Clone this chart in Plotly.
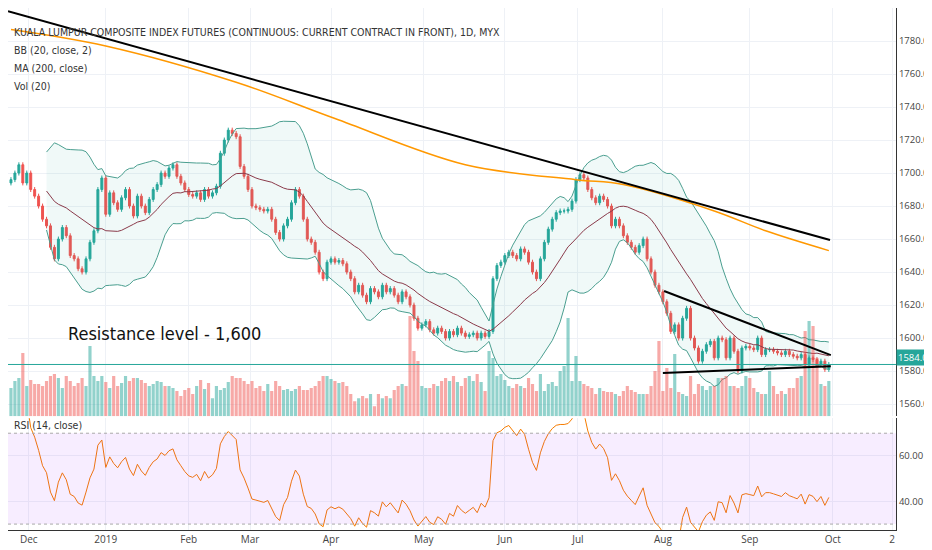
import numpy as np
import pandas as pd
import plotly.graph_objects as go
from plotly.subplots import make_subplots

# daily closes (index 0 = late Nov 2018)
closes = [
    1696, 1700, 1705, 1694, 1700, 1690, 1686, 1680, 1672, 1668,
    1655, 1648, 1660, 1667, 1662, 1650, 1648, 1642, 1640, 1648,
    1658, 1665, 1690, 1697, 1675, 1688, 1682, 1678, 1685, 1690,
    1680, 1674, 1686, 1680, 1676, 1684, 1690, 1693, 1700, 1698,
    1703, 1705, 1698, 1694, 1690, 1687, 1686, 1688, 1684, 1690,
    1686, 1688, 1692, 1712, 1720, 1726, 1724, 1722, 1704, 1698,
    1690, 1680, 1679, 1678, 1677, 1678, 1672, 1664, 1660, 1668,
    1672, 1682, 1690, 1686, 1672, 1660, 1658, 1652, 1640, 1636,
    1646, 1648, 1646, 1647, 1645, 1640, 1636, 1628, 1632, 1626,
    1622, 1630, 1628, 1625, 1632, 1628, 1630, 1626, 1622, 1628,
    1625, 1620, 1612, 1606, 1608, 1610, 1605, 1603, 1606, 1604,
    1600, 1604, 1602, 1606, 1603, 1601, 1602, 1603, 1600, 1603,
    1601, 1604, 1636, 1644, 1646, 1650, 1652, 1650, 1648, 1654,
    1652, 1646, 1640, 1636, 1648, 1658, 1666, 1672, 1676, 1677,
    1677, 1678, 1683, 1696, 1699, 1697, 1690, 1685, 1682, 1686,
    1684, 1680, 1668, 1672, 1668, 1662, 1658, 1655, 1652, 1656,
    1660, 1648, 1640, 1632, 1628, 1622, 1615, 1604, 1608, 1600,
    1612, 1618, 1600, 1594, 1586, 1592, 1596, 1598, 1588, 1600,
    1599, 1588, 1600, 1592, 1580, 1594, 1595, 1594, 1593, 1600,
    1590, 1593, 1593, 1592, 1591, 1590, 1592, 1590, 1589, 1588,
    1590, 1584, 1588, 1587, 1584, 1586, 1581, 1584,
]
first_open = 1694

volumes = [
    28, 35, 38, 63, 30, 36, 32, 32, 30, 35,
    40, 42, 38, 28, 40, 35, 30, 33, 38, 30,
    70, 40, 35, 40, 34, 28, 40, 30, 33, 40,
    35, 38, 38, 36, 33, 30, 32, 35, 34, 30,
    30, 28, 25, 20, 26, 28, 22, 30, 36, 27,
    33, 18, 30, 26, 28, 34, 40, 38, 38, 35,
    32, 35, 28, 30, 25, 32, 25, 35, 30, 26,
    27, 25, 27, 30, 26, 26, 28, 30, 35, 40,
    40, 37, 35, 33, 34, 30, 22, 15, 18, 20,
    18, 22, 10, 22, 18, 20, 18, 26, 30, 32,
    30, 100, 65, 55, 30, 28, 28, 32, 30, 35,
    38, 35, 40, 34, 30, 38, 40, 35, 42, 34,
    25, 65, 58, 40, 42, 36, 30, 28, 32, 30,
    28, 38, 32, 25, 42, 25, 32, 34, 30, 45,
    50, 98, 35, 60, 35, 32, 30, 28, 22, 28,
    25, 24, 24, 22, 20, 25, 30, 26, 24, 22,
    22, 22, 30, 45, 75, 25, 48, 28, 62, 24,
    22, 20, 40, 22, 32, 30, 26, 30, 30, 38,
    38, 40, 30, 30, 28, 30, 40, 38, 28, 24,
    22, 22, 45, 30, 22, 25, 22, 28, 28, 38,
    40, 85, 95, 90, 58, 32, 30, 35,
]

# 200-day MA, sampled along the orange line
ma_idx = [0, 24, 57, 82, 115, 143, 155, 178, 191, 207]
ma_val = [1787, 1777, 1755, 1733, 1705, 1696, 1693, 1677, 1665, 1653]

tick_pos = [4.5, 24, 45, 60.5, 81, 104.5, 125, 143.5, 165, 187, 208, 223]
tick_text = ["Dec", "2019", "Feb", "Mar", "Apr", "May", "Jun", "Jul", "Aug", "Sep", "Oct", "2"]

UP, DOWN = "#26a69a", "#ef5350"

c = pd.Series(closes, dtype=float)
o = c.shift(1).fillna(first_open)
h = np.maximum(o, c) + 1.5
l = np.minimum(o, c) - 1.5
idx = list(range(len(c)))
up = c >= o

basis = c.rolling(20, min_periods=10).mean()
sd = c.rolling(20, min_periods=10).std(ddof=0)
upper, lower = basis + 2 * sd, basis - 2 * sd

delta = c.diff()
gain = delta.clip(lower=0).ewm(alpha=1 / 14, adjust=False).mean()
loss = (-delta.clip(upper=0)).ewm(alpha=1 / 14, adjust=False).mean()
rsi = 100 - 100 / (1 + gain / loss)

fig = make_subplots(rows=2, cols=1, shared_xaxes=True, vertical_spacing=0.004,
                    row_heights=[0.785, 0.215],
                    specs=[[{"secondary_y": True}], [{}]])

# volume underneath the price
fig.add_trace(go.Bar(x=idx, y=volumes, marker_color=np.where(up, "rgba(38,166,154,0.5)", "rgba(239,83,80,0.5)"),
                     marker_line_width=0), row=1, col=1, secondary_y=True)

fig.add_trace(go.Scatter(x=idx, y=upper, mode="lines", line=dict(color="#4a9e8f", width=1)), row=1, col=1)
fig.add_trace(go.Scatter(x=idx, y=lower, mode="lines", line=dict(color="#4a9e8f", width=1), fill="tonexty",
                         fillcolor="rgba(38,166,154,0.07)"), row=1, col=1)
fig.add_trace(go.Scatter(x=idx, y=basis, mode="lines", line=dict(color="#8a3a4a", width=1)), row=1, col=1)
fig.add_trace(go.Scatter(x=ma_idx, y=ma_val, mode="lines",
                         line=dict(color="#ff9800", width=1.5, shape="spline")), row=1, col=1)
fig.add_trace(go.Candlestick(x=idx, open=o, high=h, low=l, close=c,
                             increasing=dict(line=dict(color=UP, width=1), fillcolor=UP),
                             decreasing=dict(line=dict(color=DOWN, width=1), fillcolor=DOWN),
                             whiskerwidth=0), row=1, col=1)

fig.add_trace(go.Scatter(x=idx, y=rsi, mode="lines", line=dict(color="#f57c00", width=1)), row=2, col=1)

# drawn trend lines
for x0, y0, x1, y1 in [(-0.75, 1798, 207.3, 1659.4), (165.3, 1628.5, 207.5, 1589.7), (165, 1578.8, 207.5, 1583)]:
    fig.add_shape(type="line", x0=x0, y0=y0, x1=x1, y1=y1, line=dict(color="black", width=2), row=1, col=1)
fig.add_hline(y=1584, line=dict(color=UP, width=1), row=1, col=1)

fig.add_shape(type="rect", x0=-1, x1=230, y0=30, y1=70, fillcolor="rgba(153,21,255,0.08)", line_width=0, row=2, col=1)
for lv in (30, 70):
    fig.add_hline(y=lv, line=dict(color="#aaa", width=1, dash="dot"), row=2, col=1)

fig.add_annotation(x=14, y=1603, text="Resistance level - 1,600", showarrow=False, xanchor="left",
                   font=dict(size=18, color="#111", family="DejaVu Sans Condensed, Roboto"), row=1, col=1)
fig.add_annotation(xref="paper", yref="paper", x=1.0, y=(1584 - 1552.7) / (1800 - 1552.7) * 0.785 + 0.215,
                   text="1584.0", showarrow=False, xanchor="left", bgcolor=UP, font=dict(size=9.5, color="white"))

labels = ["KUALA LUMPUR COMPOSITE INDEX FUTURES (CONTINUOUS: CURRENT CONTRACT IN FRONT), 1D, MYX",
          "BB (20, close, 2)", "MA (200, close)", "Vol (20)"]
for k, t in enumerate(labels):
    fig.add_annotation(xref="paper", yref="paper", x=0.004, y=1 - (16 + 18 * k) / 522, text=t,
                       showarrow=False, xanchor="left",
                       font=dict(size=10.5, color="#333", family="DejaVu Sans Condensed, Open Sans"))
fig.add_annotation(xref="paper", yref="paper", x=0.004, y=(522 - 425) / 522, text="RSI (14, close)",
                   showarrow=False, xanchor="left",
                   font=dict(size=10.5, color="#333", family="DejaVu Sans Condensed, Open Sans"))

grid = "#eef1f6"
fig.update_xaxes(domain=[0, 1], range=[-0.75, 224], tickvals=tick_pos, ticktext=tick_text, showgrid=True,
                 gridcolor=grid, rangeslider_visible=False, tickfont=dict(size=10, color="#444"),
                 zeroline=False, automargin=False)
fig.update_xaxes(showticklabels=False, row=1, col=1)
fig.update_xaxes(showline=True, linecolor="#333", row=2, col=1)
fig.update_yaxes(side="right", range=[1552.7, 1800], tickvals=list(range(1560, 1781, 20)), tickformat=".1f",
                 gridcolor=grid, showline=True, linecolor="#333", tickfont=dict(size=9.5, color="#444"),
                 automargin=False, row=1, col=1, secondary_y=False)
fig.update_yaxes(range=[0, 408], visible=False, showgrid=False, automargin=False, row=1, col=1, secondary_y=True)
fig.update_yaxes(side="right", range=[27.4, 76.6], tickvals=[40, 60], tickformat=".2f", gridcolor=grid,
                 showline=True, linecolor="#333", tickfont=dict(size=9.5, color="#444"), automargin=False,
                 row=2, col=1)

fig.update_layout(width=932, height=550, margin=dict(l=0, r=44, t=0, b=28), showlegend=False,
                  plot_bgcolor="white", paper_bgcolor="white", bargap=0.2,
                  font=dict(family="Open Sans, DejaVu Sans"))
fig.write_html("out.html")
